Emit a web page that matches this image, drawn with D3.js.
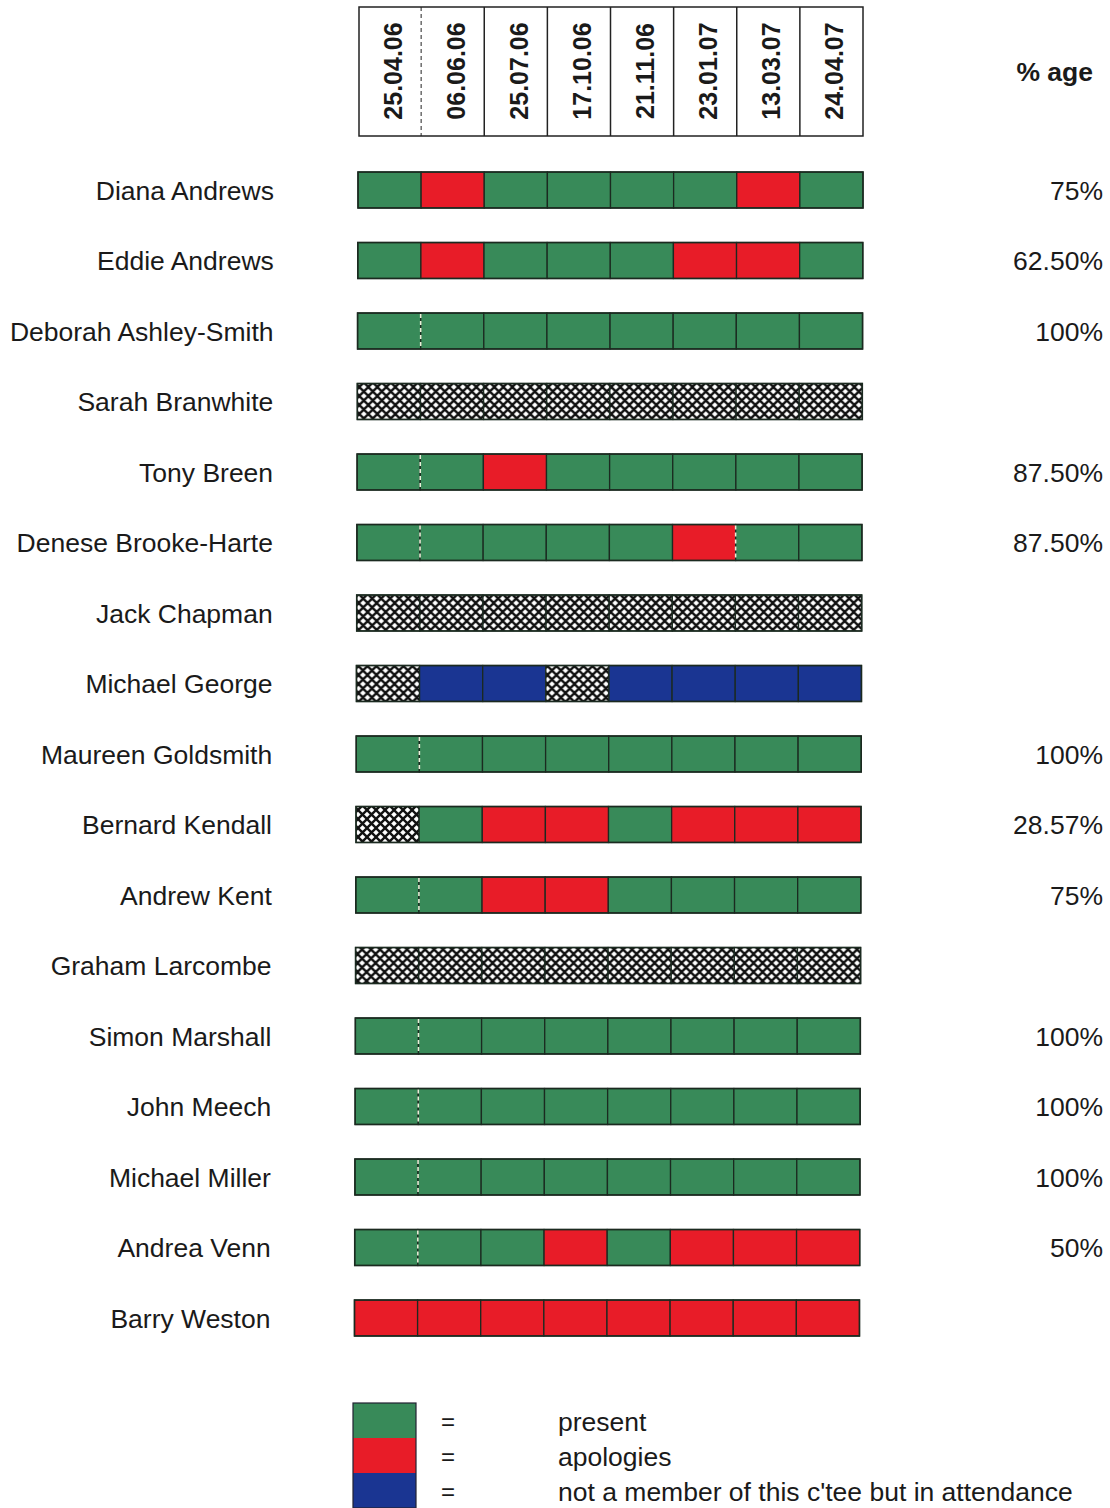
<!DOCTYPE html>
<html>
<head>
<meta charset="utf-8">
<script src="https://cdn.jsdelivr.net/npm/d3@7"></script>
<style>
  body { margin: 0; background: #fff; }
  svg { display: block; }
  text { font-family: "Liberation Sans", Arial, sans-serif; fill: #1a1a1a; }
</style>
</head>
<body>
<svg id="chart" width="1110" height="1508"></svg>
<script>
// ---- data ----
const dates = ["25.04.06","06.06.06","25.07.06","17.10.06","21.11.06","23.01.07","13.03.07","24.04.07"];
const names = ["Diana Andrews","Eddie Andrews","Deborah Ashley-Smith","Sarah Branwhite","Tony Breen",
  "Denese Brooke-Harte","Jack Chapman","Michael George","Maureen Goldsmith","Bernard Kendall",
  "Andrew Kent","Graham Larcombe","Simon Marshall","John Meech","Michael Miller","Andrea Venn","Barry Weston"];
// P = present, A = apologies, N = not a member (hatched), V = not a member but in attendance
const attendance = [
  "PAPPPPAP","PAPPPAAP","PPPPPPPP","NNNNNNNN","PPAPPPPP",
  "PPPPPAPP","NNNNNNNN","NVVNVVVV","PPPPPPPP","NPAAPAAA",
  "PPAAPPPP","NNNNNNNN","PPPPPPPP","PPPPPPPP","PPPPPPPP","PPPAPAAA","AAAAAAAA"];
const percentages = ["75%","62.50%","100%","","87.50%","87.50%","","","100%","28.57%","75%","","100%","100%","100%","50%",""];
// boundaries drawn as dashed (index of boundary after column i)
const dashedBoundaries = [[],[],[0],[],[0],[0,5],[],[],[0],[],[0],[],[0],[0],[0],[0],[]];
const legendKeys = ["P","A","V"];
const legendLabels = ["present","apologies","not a member of this c'tee but in attendance"];

// ---- styles ----
const colors = { P: "#388a59", A: "#e81c28", V: "#1a3592" };

const svg = d3.select("#chart");
const defs = svg.append("defs");
const pat = defs.append("pattern").attr("id","hatch").attr("patternUnits","userSpaceOnUse")
  .attr("width", 9).attr("height", 9);
pat.append("rect").attr("width",9).attr("height",9).attr("fill","#fff");
pat.append("path").attr("d","M-1,-1 L10,10 M10,-1 L-1,10").attr("stroke","#111").attr("stroke-width",2.4);

const fillFor = k => k === "N" ? "url(#hatch)" : colors[k];

// scales
const x = d3.scaleBand().domain(d3.range(dates.length)).range([358, 863]).padding(0);
const y = d3.scaleBand().domain(d3.range(names.length)).range([154.75, 1353.25])
  .paddingInner(0.49).paddingOuter(0.245);
const bh = y.bandwidth();
const skew = i => -0.22 * i; // slight scan skew

// header
const hdr = svg.append("g");
hdr.append("rect").attr("x", x(0)+1).attr("y", 7).attr("width", x.range()[1]-x(0)-1).attr("height", 129)
  .attr("fill","none").attr("stroke","#222").attr("stroke-width",1.5);
dates.forEach((d,i) => {
  if (i > 0) {
    hdr.append("line").attr("x1", x(i)).attr("x2", x(i)).attr("y1", 7).attr("y2", 136)
      .attr("stroke","#222").attr("stroke-width", i===1 ? 1 : 1.5)
      .attr("stroke-dasharray", i===1 ? "4,3" : null);
  }
  const cx = x(i) + x.bandwidth()/2;
  hdr.append("text").attr("transform", `translate(${cx+12},71) rotate(-90)`)
    .attr("text-anchor","middle").attr("font-size", 25).attr("font-weight","bold").text(d);
});
svg.append("text").attr("x", 1093).attr("y", 81).attr("text-anchor","end")
  .attr("font-size", 26.5).attr("font-weight","bold").text("% age");

// rows
names.forEach((name, r) => {
  const yy = y(r);
  const off = skew(r);
  const g = svg.append("g").attr("transform", `translate(${off},0)`);
  g.selectAll("rect.cell").data(attendance[r].split("")).join("rect")
    .attr("x", (d,i) => x(i)).attr("y", yy).attr("width", x.bandwidth()).attr("height", bh)
    .attr("fill", d => fillFor(d)).attr("stroke","#1b2a20").attr("stroke-width",1.3);
  g.append("rect").attr("x", x(0)).attr("y", yy).attr("width", x.range()[1]-x(0)).attr("height", bh)
    .attr("fill","none").attr("stroke","#1b2a20").attr("stroke-width",1.5);
  dashedBoundaries[r].forEach(b => {
    const bx = x(b+1);
    g.append("line").attr("x1",bx).attr("x2",bx).attr("y1",yy+1).attr("y2",yy+bh-1)
      .attr("stroke","#e8f0d8").attr("stroke-width",1.6).attr("stroke-dasharray","4,3");
  });
  svg.append("text").attr("x", 274 + off).attr("y", yy + bh/2 + 9.5).attr("text-anchor","end")
    .attr("font-size", 26.5).text(name);
  if (percentages[r]) {
    svg.append("text").attr("x", 1103).attr("y", yy + bh/2 + 9.5).attr("text-anchor","end")
      .attr("font-size", 26.5).text(percentages[r]);
  }
});

// legend
const ly = d3.scaleBand().domain(d3.range(legendKeys.length)).range([1403, 1508]);
legendKeys.forEach((k,i) => {
  svg.append("rect").attr("x", 353).attr("y", ly(i)).attr("width", 63).attr("height", ly.bandwidth())
    .attr("fill", colors[k]);
  svg.append("text").attr("x", 448).attr("y", ly(i)+ly.bandwidth()/2+9).attr("text-anchor","middle")
    .attr("font-size", 24).text("=");
  svg.append("text").attr("x", 558).attr("y", ly(i)+ly.bandwidth()/2+10).attr("font-size", 26.5).text(legendLabels[i]);
});
svg.append("rect").attr("x", 353).attr("y", 1403).attr("width", 63).attr("height", 105)
  .attr("fill","none").attr("stroke","#223").attr("stroke-width",1.2);
</script>
</body>
</html>
